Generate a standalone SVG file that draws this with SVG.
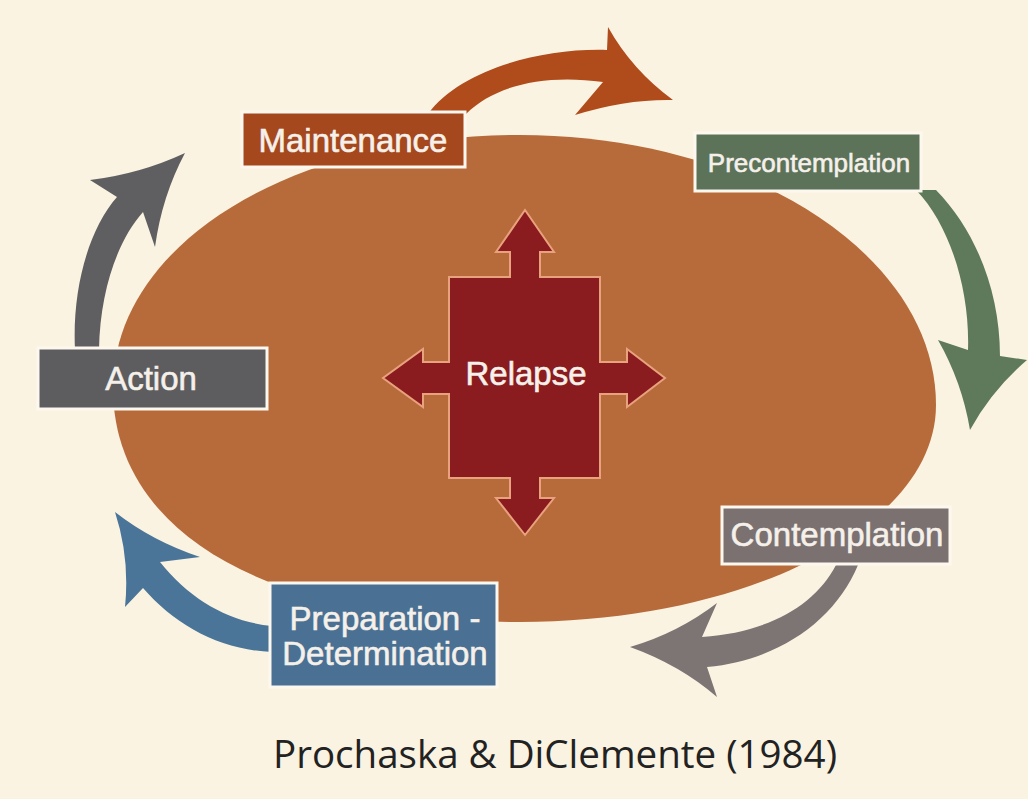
<svg xmlns="http://www.w3.org/2000/svg" width="1028" height="799" viewBox="0 0 1028 799">
<style>
.box{stroke:#fdf8ef;stroke-width:3}
.lbl{font-family:"Liberation Sans",Arial,sans-serif;font-size:33px;fill:#f5f0ea;stroke:#f5f0ea;stroke-width:0.6;text-anchor:middle}
.cite{font-family:"Open Sans","Noto Sans",sans-serif;font-size:38px;fill:#222}
</style>
<rect width="1028" height="799" fill="#faf3e1"/>
<g id="cycle-body">
<path d="M113,388 C113,245 290,135 520,135 C750,135 936,256 936,405 C936,525 750,622 520,622 C262,622 113,530 113,388 Z" fill="#b76a3a"/>
</g>
<g id="connectors">
<path id="arrow-maint-precon" d="M428,114 C460,70 540,48 607,50 L608,27 Q632,70 673,100 Q626,99 575,115 L603,82 C545,74 495,85 466,114 Z" fill="#b04b1c"/>
<path id="arrow-precon-contemp" d="M916,190 C950,225 970,290 968,350 L938,340 Q962,382 970,430 Q992,390 1027,360 L1000,356 C1000,290 975,230 936,190 Z" fill="#5f7a5b"/>
<path id="arrow-contemp-prep" d="M836,565 C815,605 770,632 702,637 L717,603 Q678,633 630,647 Q680,665 717,697 L707,667 C780,660 835,620 858,565 Z" fill="#7d7474"/>
<path id="arrow-prep-action" d="M272,626 C230,622 190,600 160,562 L200,557 Q152,541 115,512 Q130,558 125,607 L143,588 C175,625 220,650 272,652 Z" fill="#4a7598"/>
<path id="arrow-action-maint" d="M75,350 C72,290 88,230 117,197 L90,180 Q140,174 185,153 Q162,196 155,247 L143,212 C118,240 100,290 99,350 Z" fill="#5f5f61"/>
</g>
<g id="relapse">
<path d="M525,210 L554,252 L540,252 L540,277 L600,277 L600,362 L627,362 L627,349 L665,378 L627,407 L627,394 L600,394 L600,478 L540,478 L540,498 L554,498 L525,535 L496,498 L510,498 L510,478 L449,478 L449,394 L423,394 L423,407 L383,378 L423,349 L423,362 L449,362 L449,277 L510,277 L510,252 L496,252 Z" fill="#8a1b1e" stroke="#e9a27e" stroke-width="2"/>
<text class="lbl" x="526" y="385">Relapse</text>
</g>
<g id="maintenance">
<rect class="box" x="242" y="112" width="223" height="55" fill="#a5481d"/>
<text class="lbl" x="353" y="152">Maintenance</text>
</g>
<g id="precontemplation">
<rect class="box" x="695" y="133" width="226" height="58" fill="#5c7359"/>
<text class="lbl" x="809" y="172" style="font-size:26px">Precontemplation</text>
</g>
<g id="contemplation">
<rect class="box" x="722" y="507" width="228" height="57" fill="#7b7171"/>
<text class="lbl" x="837" y="546">Contemplation</text>
</g>
<g id="preparation">
<rect class="box" x="270" y="583" width="227" height="104" fill="#4a7193"/>
<text class="lbl" x="385" y="630">Preparation -</text>
<text class="lbl" x="385" y="665">Determination</text>
</g>
<g id="action">
<rect class="box" x="38" y="348" width="229" height="61" fill="#5d5d5f"/>
<text class="lbl" x="151" y="390">Action</text>
</g>
<text class="cite" x="273" y="768" textLength="564" lengthAdjust="spacingAndGlyphs">Prochaska &amp; DiClemente (1984)</text>
</svg>
